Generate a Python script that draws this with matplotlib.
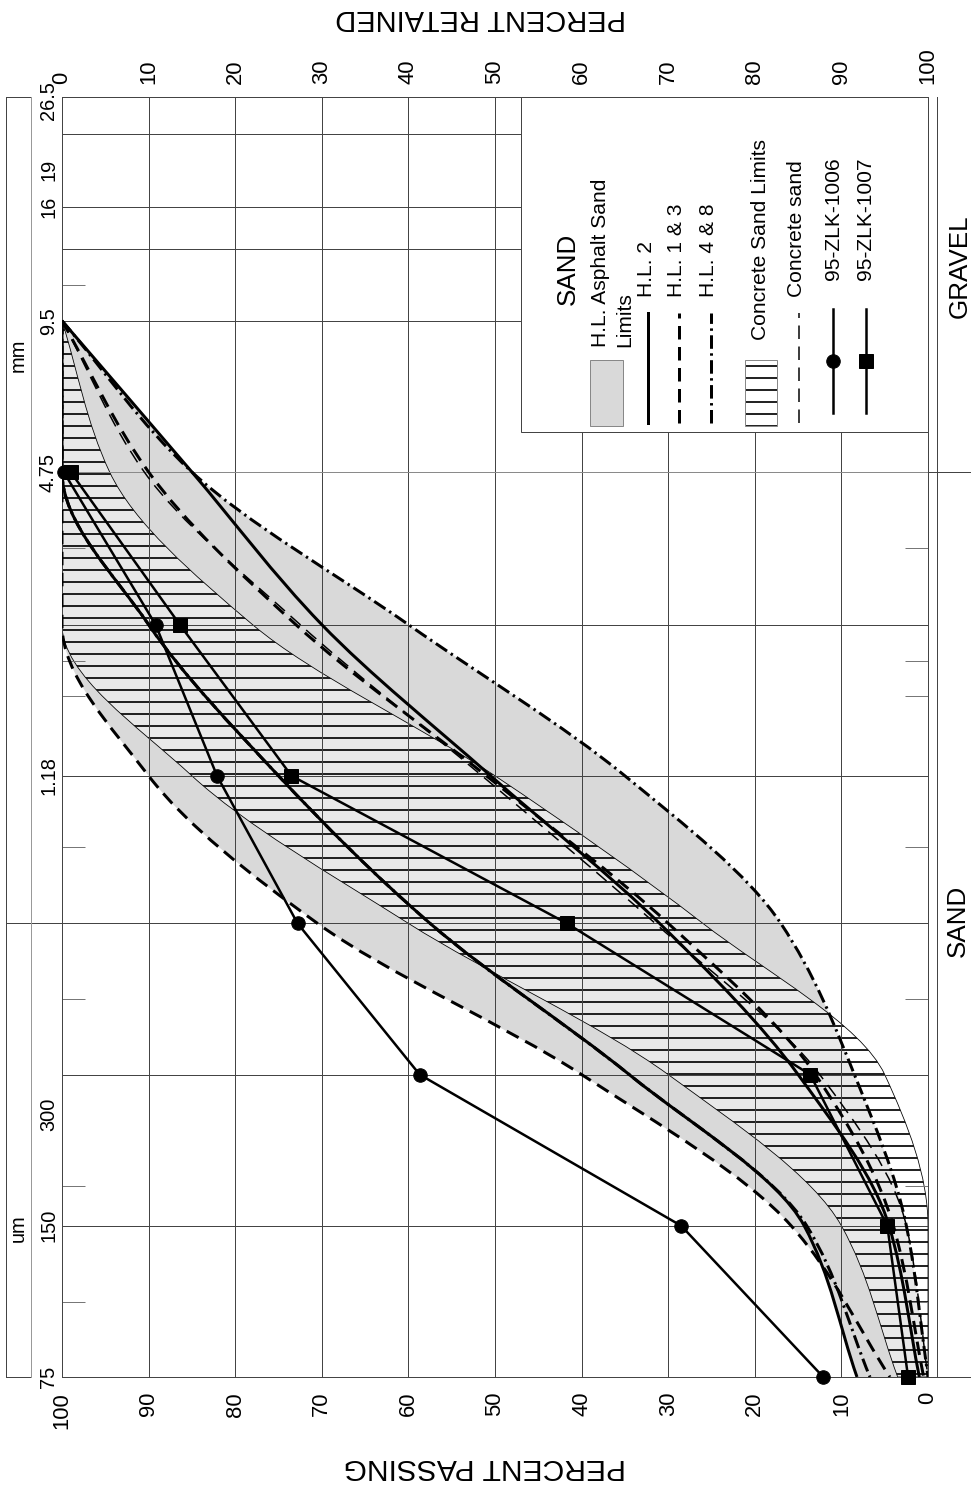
import numpy as np
import matplotlib
matplotlib.use('Agg')
import matplotlib.pyplot as plt
from matplotlib.patches import Rectangle, PathPatch
from matplotlib.path import Path
from matplotlib.lines import Line2D
from matplotlib.ticker import NullFormatter
import matplotlib.transforms as mtransforms

plt.rcParams['font.family'] = ['Liberation Sans', 'DejaVu Sans']
plt.rcParams['hatch.color'] = 'black'
plt.rcParams['hatch.linewidth'] = 1.7

W, H, DPI = 971, 1485, 72

# sieve sizes (mm) and percent passing
sieves = [9.5, 4.75, 2.36, 1.18, 0.6, 0.3, 0.15, 0.075]
hl2_upper = [100, 100, 90, 75, 57.5, 34.5, 14.3, 8.2]
hl2_lower = [100, 85, 70, 50.5, 31, 15, 4.5, 1.0]
hl13_upper = [100, 100, 100, 90, 70.5, 40, 15.8, 4.4]
hl13_lower = [100, 90, 73, 51, 30, 13, 4, 0.5]
hl48_upper = [100, 100, 90, 75, 57.5, 34.5, 14, 6.7]
hl48_lower = [100, 85, 60, 35, 17, 8.5, 2.5, 0]
conc_upper = [100, 100, 100, 85, 60, 30, 10, 3.5]
conc_lower = [100, 94.5, 78, 50, 26, 5, 0, 0]
conc_sand = [100, 90.5, 72.5, 51.5, 31.5, 12.5, 2.5, 0]

sample_sieves = [4.75, 2.36, 1.18, 0.6, 0.3, 0.15, 0.075]
zlk1006 = [99.8, 89.2, 82.1, 72.8, 58.7, 28.5, 12.1]
zlk1007 = [99.0, 86.4, 73.5, 41.7, 13.6, 4.7, 2.3]

grid_sizes = [22.4, 16, 13.2, 9.5, 4.75, 2.36, 1.18, 0.6, 0.3, 0.15]
minor_sizes = [11.2, 3.35, 2.0, 1.7, 0.85, 0.425, 0.25, 0.18, 0.106]
size_ticks = [19, 16, 9.5, 4.75, 1.18, 0.25, 0.15, 0.075]
size_labels = ['19', '16', '9.5', '4.75', '1.18', '300', '150', '75']
pct_ticks = list(range(0, 101, 10))

GRAY = '#d9d9d9'
GRID = '#444444'


def rect(x0, y0, x1, y1):
    return [x0 / W, 1 - y1 / H, (x1 - x0) / W, (y1 - y0) / H]


def smooth_codes_verts(pcts, sizes):
    # monotone cubic (pchip style) in (percent, log size), drawn as bezier segments
    x = np.asarray(pcts, float)
    y = np.log10(np.asarray(sizes, float))
    h = np.diff(y)
    d = np.diff(x) / h
    m = np.zeros_like(x)
    m[0], m[-1] = d[0], d[-1]
    for k in range(1, len(x) - 1):
        if d[k - 1] * d[k] <= 0:
            m[k] = 0
        else:
            w1 = 2 * h[k] + h[k - 1]
            w2 = h[k] + 2 * h[k - 1]
            m[k] = (w1 + w2) / (w1 / d[k - 1] + w2 / d[k])
    verts = [(x[0], 10 ** y[0])]
    codes = [Path.MOVETO]
    for k in range(len(h)):
        verts.append((x[k] + m[k] * h[k] / 3, 10 ** (y[k] + h[k] / 3)))
        verts.append((x[k + 1] - m[k + 1] * h[k] / 3, 10 ** (y[k + 1] - h[k] / 3)))
        verts.append((x[k + 1], 10 ** y[k + 1]))
        codes += [Path.CURVE4] * 3
    return verts, codes


def curve(ax, pcts, sizes, **kw):
    verts, codes = smooth_codes_verts(pcts, sizes)
    ax.add_patch(PathPatch(Path(verts, codes), fill=False, transform=ax.transData, **kw))


def band(ax, lower, upper, sizes, **kw):
    v1, c1 = smooth_codes_verts(upper, sizes)
    v2, c2 = smooth_codes_verts(lower, sizes)
    verts = v1 + v2[::-1] + [v1[0]]
    codes = c1 + [Path.LINETO] + [Path.CURVE4] * (len(v2) - 1) + [Path.CLOSEPOLY]
    ax.add_patch(PathPatch(Path(verts, codes), transform=ax.transData, **kw))


fig = plt.figure(figsize=(W / DPI, H / DPI), dpi=DPI)
ax = fig.add_axes(rect(62, 97, 928, 1377))
ax.set_xlim(100, 0)
ax.set_yscale('log')
ax.set_ylim(0.075, 26.5)

# asphalt sand limits (union of the bands)
for lo, up in [(hl2_lower, hl2_upper), (hl13_lower, hl13_upper), (hl48_lower, hl48_upper)]:
    band(ax, lo, up, sieves, facecolor=GRAY, edgecolor='none', lw=0, zorder=1)

# concrete sand limits
band(ax, conc_lower, conc_upper, sieves, facecolor=(1, 1, 1, 0.42),
     edgecolor='black', hatch='-', lw=0.8, zorder=1.2)

for p in range(10, 100, 10):
    ax.axvline(p, color=GRID, lw=1, zorder=1.5)
for s in grid_sizes:
    ax.axhline(s, color='#8a8a8a' if s == 4.75 else GRID, lw=1, zorder=1.5)

dash = (4.5, 2.5)
dashdot = (4.5, 1.5, 0.8, 1.5)
curve(ax, hl2_upper, sieves, edgecolor='black', lw=3, zorder=3)
curve(ax, hl2_lower, sieves, edgecolor='black', lw=3, zorder=3)
curve(ax, hl13_upper, sieves, edgecolor='black', lw=3, linestyle=(0, dash), zorder=3)
curve(ax, hl13_lower, sieves, edgecolor='black', lw=3, linestyle=(0, dash), zorder=3)
curve(ax, hl48_upper, sieves, edgecolor='black', lw=3, linestyle=(0, dashdot), zorder=3)
curve(ax, hl48_lower, sieves, edgecolor='black', lw=3, linestyle=(0, dashdot), zorder=3)
curve(ax, conc_sand, sieves, edgecolor='black', lw=1.5, linestyle=(0, (9, 5)), zorder=3)

ax.plot(zlk1006, sample_sieves, color='black', lw=2.5, marker='o', ms=13.5, zorder=4, clip_on=False)
ax.plot(zlk1007, sample_sieves, color='black', lw=2.5, marker='s', ms=14, zorder=4, clip_on=False)

for sp in ax.spines.values():
    sp.set_color(GRID)
    sp.set_linewidth(1)

ax.set_xticks(pct_ticks)
ax.set_xticklabels([str(p) for p in pct_ticks], rotation=90, va='top')
ax.tick_params(axis='x', length=0, pad=15, labelsize=22)
ax.set_yticks(size_ticks)
ax.set_yticklabels(size_labels, rotation=90, va='center')
ax.set_yticks(minor_sizes, minor=True)
ax.yaxis.set_minor_formatter(NullFormatter())
ax.tick_params(axis='y', which='major', length=0, pad=4, labelsize=20)
ax.tick_params(axis='y', which='minor', direction='in', length=23, width=1,
               color='#777777', left=True, right=True)

sec = ax.secondary_xaxis('top', functions=(lambda p: 100 - p, lambda r: 100 - r))
sec.set_xticks(pct_ticks)
sec.set_xticklabels([str(p) for p in pct_ticks], rotation=90, va='bottom')
sec.tick_params(length=0, pad=13, labelsize=22)
sec.spines['top'].set_color(GRID)

# overlay in pixel coordinates
ov = fig.add_axes([0, 0, 1, 1])
ov.set_xlim(0, W)
ov.set_ylim(H, 0)
ov.axis('off')
ov.patch.set_visible(False)

blend = mtransforms.blended_transform_factory(ov.transData, ax.transData)
for x0, x1, s in [(6, 62, 0.6), (928, 971, 4.75), (928, 971, 0.075), (6, 31, 26.5), (6, 31, 0.075)]:
    ov.add_line(Line2D([x0, x1], [s, s], transform=blend, color=GRID, lw=1))
ov.add_line(Line2D([6, 6], [26.5, 0.075], transform=blend, color=GRID, lw=1))
ov.add_line(Line2D([31, 31], [26.5, 0.075], transform=blend, color='#999999', lw=1))
ov.add_line(Line2D([937, 937], [26.5, 0.075], transform=blend, color=GRID, lw=1))

ov.text(58, 101, '26.5', rotation=90, ha='right', va='center', fontsize=20)
ov.text(18, 355, 'mm', rotation=90, ha='center', va='center', fontsize=20)
ov.text(18, 1228, 'um', rotation=90, ha='center', va='center', fontsize=20)
ov.text(485, 1467, 'PERCENT PASSING', rotation=180, ha='center', va='center', fontsize=30)
ov.text(481, 18, 'PERCENT RETAINED', rotation=180, ha='center', va='center', fontsize=29)
ov.text(960, 266, 'GRAVEL', rotation=90, ha='center', va='center', fontsize=26)
ov.text(958, 921, 'SAND', rotation=90, ha='center', va='center', fontsize=26)

# legend
ov.add_patch(Rectangle((521, 97), 407, 335, facecolor='white', edgecolor=GRID, lw=1, zorder=5))
ov.text(568, 305, 'SAND', rotation=90, ha='center', va='bottom', fontsize=26, zorder=6)
ov.add_patch(Rectangle((590, 360), 33, 66, facecolor=GRAY, edgecolor='#888888', lw=1, zorder=6))
ov.text(601, 347, 'H.L. Asphalt Sand', rotation=90, ha='center', va='bottom', fontsize=21, zorder=6)
ov.text(625, 347, 'Limits', rotation=90, ha='center', va='bottom', fontsize=21, zorder=6)

leg_lines = [
    (648, 'H.L. 2', dict(lw=3)),
    (679, 'H.L. 1 & 3', dict(lw=3, dashes=dash)),
    (711, 'H.L. 4 & 8', dict(lw=3, dashes=dashdot)),
    (799, 'Concrete sand', dict(lw=1.5, dashes=(9, 5))),
]
for x, label, kw in leg_lines:
    ov.add_line(Line2D([x, x], [423, 313], color='black', zorder=6, **kw))
    ov.text(x - 2, 297, label, rotation=90, ha='center', va='bottom', fontsize=21, zorder=6)

ov.add_patch(Rectangle((745, 360), 32, 66, facecolor='white', edgecolor='black', lw=0,
                       hatch='-', zorder=6))
ov.add_patch(Rectangle((745, 360), 32, 66, facecolor='none', edgecolor='#888888', lw=1, zorder=6.5))
ov.text(760, 340, 'Concrete Sand Limits', rotation=90, ha='center', va='bottom', fontsize=21, zorder=6)

for x, label, mk, ms in [(833, '95-ZLK-1006', 'o', 13.5), (866, '95-ZLK-1007', 's', 14)]:
    ov.add_line(Line2D([x, x], [413, 309], color='black', lw=2.5, zorder=6))
    ov.add_line(Line2D([x], [361], color='black', marker=mk, ms=ms, zorder=6))
    ov.text(x, 280, label, rotation=90, ha='center', va='bottom', fontsize=21, zorder=6)

fig.savefig('out.png', dpi=DPI)
